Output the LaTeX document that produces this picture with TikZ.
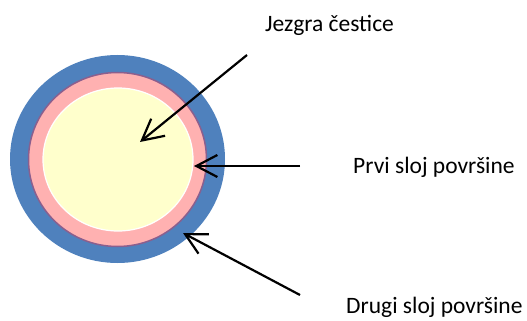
\documentclass[tikz,border=0pt]{standalone}
\usepackage{fontspec}
\setmainfont{Carlito}
\usepackage{tikz}
\usetikzlibrary{arrows.meta,shapes.geometric}
\definecolor{shellblue}{HTML}{4F81BD}
\definecolor{layerpink}{HTML}{FFB1B1}
\definecolor{layerrim}{HTML}{8A5F8E}
\definecolor{coreyellow}{HTML}{FFFFCC}
\tikzset{
  every node/.style={font=\fontsize{23.5}{27}\selectfont},
  shell/.style={ellipse,fill=shellblue,minimum width=215pt,minimum height=208pt,inner sep=0pt},
  layer/.style={ellipse,fill=layerpink,draw=layerrim,line width=1.5pt,minimum width=178pt,minimum height=174pt,inner sep=0pt},
  core/.style={ellipse,fill=coreyellow,draw=white,line width=1.2pt,minimum width=150pt,minimum height=143pt,inner sep=0pt},
  pointer/.style={-{Straight Barb[length=21pt,width=22pt]},line width=2.2pt,draw=black},
  tag/.style={anchor=west,inner sep=0pt}
}
\begin{document}
\begin{tikzpicture}[x=1pt,y=-1pt]
  \useasboundingbox (0,0) rectangle (527,321);
  \node[shell] (outerShell) at (117.5,159) {};
  \node[layer] (firstLayer) at (117.5,159.5) {};
  \node[core] (particleCore) at (118,159.5) {};

  \node[tag] (coreLabel) at (265,25) {Jezgra čestice};
  \node[tag] (firstLabel) at (353,167) {Prvi sloj površine};
  \node[tag] (secondLabel) at (346,307) {Drugi sloj površine};

  \coordinate (coreTail) at (247,55);
  \coordinate (coreTip) at (140,142);
  \coordinate (firstTail) at (300,166);
  \coordinate (firstTip) at (194,166);
  \coordinate (secondTail) at (300,295);
  \coordinate (secondTip) at (183,233);

  \draw[pointer] (coreTail) -- (coreTip);
  \draw[pointer] (firstTail) -- (firstTip);
  \draw[pointer] (secondTail) -- (secondTip);
\end{tikzpicture}
\end{document}
